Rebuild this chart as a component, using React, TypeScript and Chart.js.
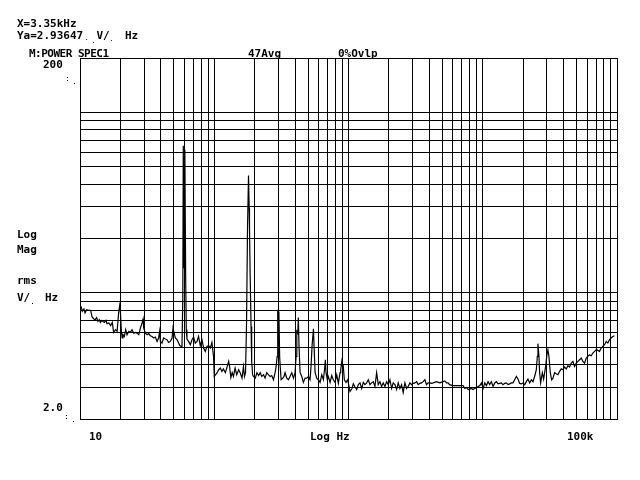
import React, { useEffect, useRef } from "react";
import { Chart, registerables } from "chart.js";

Chart.register(...registerables);

// Frequency (Hz) of each trace point
const freqHz = [
  10.2, 10.4, 10.7, 10.9, 11.2, 11.6, 12.0, 12.3, 12.7, 13.0, 13.3, 13.6, 13.9, 14.2, 14.5, 14.9, 15.2, 15.6, 15.9, 16.4,
  16.9, 17.4, 17.8, 18.4, 18.9, 19.4, 19.8, 20.0, 20.3, 20.6, 20.9, 21.4, 21.9, 22.4, 23.1, 23.7, 24.4, 25.1, 25.9, 26.6,
  27.4, 28.2, 29.0, 29.5, 29.8, 30.7, 31.6, 32.5, 33.4, 34.4, 35.4, 36.4, 37.5, 38.5, 39.2, 39.7, 40.8, 42.0, 43.2, 44.5,
  45.7, 47.1, 48.5, 49.3, 50.4, 51.3, 52.8, 54.3, 55.2, 56.6, 57.5, 58.3, 58.8, 59.6, 60.4, 61.2, 61.9, 62.6, 64.4, 66.3,
  68.3, 70.2, 72.2, 74.4, 76.4, 78.7, 81.0, 83.3, 85.7, 88.3, 90.7, 93.4, 96.1, 98.8,
  100, 105, 108, 111, 114, 117, 121, 124, 128, 130, 133, 136, 139, 143, 147, 152, 156, 161, 165, 168,
  171, 174, 177, 180, 182, 183, 185, 188, 190, 193, 196, 202, 208, 214, 220, 226, 233, 239, 246, 253,
  261, 268, 276, 284, 289, 294, 297, 300, 303, 307, 310, 315, 324, 331, 337, 347, 357, 367, 378, 389,
  400, 407, 412, 419, 423, 428, 436, 449, 461, 475, 489, 503, 517, 526, 535, 548, 554, 564, 580, 596,
  614, 632, 650, 665, 672, 680, 696, 708, 729, 750, 771, 794, 817, 840, 865, 875, 891, 906, 915, 931,
  958, 986,
  1026, 1062, 1086, 1118, 1151, 1183, 1218, 1254, 1289, 1326, 1365, 1404, 1445, 1487, 1529, 1574, 1620, 1665, 1714, 1764,
  1814, 1868, 1922, 1977, 2035, 2095, 2154, 2217, 2282, 2346, 2414, 2485, 2555, 2630, 2708, 2783, 2866, 2949, 3032, 3122,
  3214, 3303, 3400, 3500, 3598, 3704, 3813, 3920, 4035, 4155, 4271, 4527, 4789, 5068, 5217, 5371, 5520, 5656, 6014, 6374,
  6745, 7137, 7348, 7565, 7775, 8004, 8240, 8470, 8720, 8978, 9228, 9500, 9780,
  10050, 10350, 10650, 10950, 11270, 11600, 11930, 12280, 12640, 12990, 13380, 13770, 14150, 14570, 15000, 15420, 15870, 16340, 16800, 17290,
  17800, 18300, 18840, 19380, 19930, 20520, 21130, 21720, 22360, 23020, 23660, 24350, 25070, 25500, 25770, 26220, 26530, 26990, 27780, 28410,
  29400, 30070, 30580, 31110, 31860, 32590, 33330, 34300, 35310, 36290, 37360, 38450, 39510, 40700, 41900, 43070, 44340, 45640, 46920, 48300,
  49730, 51110, 52630, 54180, 55690, 57330, 59010, 60660, 62450, 64280, 66080, 68030, 70020, 71990, 74110, 76290, 78420, 80730, 83110, 85430,
  87950, 90540, 93070, 95810,
];

// rms magnitude (V/√Hz) of each trace point
const magV = [
  8.41, 7.90, 8.14, 7.74, 8.07, 7.99, 7.99, 7.35, 7.16, 7.10, 7.29, 6.95, 7.10, 6.86, 7.04, 6.92, 6.86, 7.04, 6.75, 6.81,
  6.58, 6.86, 6.04, 6.25, 6.12, 7.74, 8.60, 7.90, 6.25, 5.62, 5.86, 5.73, 6.25, 5.86, 6.12, 6.04, 6.25, 5.98, 6.04, 5.98,
  5.86, 6.39, 6.81, 7.16, 6.39, 5.98, 5.86, 5.94, 5.79, 5.73, 5.62, 5.69, 5.38, 5.62, 6.12, 5.38, 5.27, 5.62, 5.55, 5.50,
  5.31, 5.38, 5.62, 6.39, 5.94, 5.62, 5.50, 5.27, 5.12, 5.05, 5.10, 9.16, 65.3, 13.8, 62.1, 13.1, 6.25, 5.55, 5.38, 5.16,
  5.50, 5.69, 5.27, 5.38, 5.73, 5.10, 5.50, 4.95, 4.74, 5.05, 5.10, 4.95, 5.31, 4.43,
  3.44, 3.61, 3.75, 3.83, 3.67, 3.79, 3.61, 3.84, 4.17, 3.91, 3.39, 3.61, 3.44, 3.83, 3.52, 3.75, 3.61, 3.37, 3.91, 3.44,
  3.61, 6.83, 23.3, 44.6, 29.6, 23.3, 12.9, 6.51, 4.21, 3.52, 3.44, 3.37, 3.61, 3.48, 3.61, 3.44, 3.52, 3.37, 3.61, 3.52,
  3.44, 3.48, 3.30, 3.61, 3.91, 4.43, 8.07, 4.54, 7.87, 4.43, 3.91, 3.30, 3.37, 3.44, 3.61, 3.37, 3.30, 3.44, 3.61, 3.37,
  3.61, 4.45, 6.12, 5.98, 7.31, 5.05, 3.61, 3.44, 3.19, 3.37, 3.37, 3.44, 3.30, 3.91, 5.05, 6.33, 5.05, 3.61, 3.37, 3.30,
  3.19, 3.52, 3.30, 3.83, 4.26, 3.61, 3.30, 3.44, 3.19, 3.48, 3.30, 3.19, 3.52, 3.15, 3.61, 3.75, 4.17, 3.83, 3.91, 3.30,
  3.19, 3.30,
  2.84, 2.95, 3.14, 3.01, 2.91, 3.10, 3.17, 2.95, 3.19, 3.10, 3.17, 3.30, 3.10, 3.17, 3.22, 3.03, 3.61, 3.10, 3.22, 3.03,
  3.17, 3.03, 3.22, 3.10, 3.30, 2.95, 3.17, 3.10, 2.91, 3.17, 2.95, 3.10, 2.80, 3.17, 2.95, 3.03, 3.17, 3.10, 3.15, 3.17,
  3.22, 3.10, 3.15, 3.17, 3.22, 3.30, 3.10, 3.17, 3.17, 3.15, 3.17, 3.22, 3.17, 3.22, 3.25, 3.17, 3.17, 3.10, 3.06, 3.06,
  3.06, 3.06, 2.95, 2.99, 2.91, 2.93, 2.95, 2.91, 2.95, 2.99, 3.03, 3.06, 3.17,
  2.95, 3.17, 3.06, 3.22, 3.10, 3.22, 3.03, 3.17, 3.22, 3.13, 3.15, 3.17, 3.10, 3.15, 3.17, 3.10, 3.13, 3.17, 3.17, 3.30,
  3.44, 3.33, 3.15, 3.13, 3.17, 3.10, 3.22, 3.33, 3.17, 3.30, 3.22, 3.44, 3.75, 4.45, 5.23, 4.45, 3.61, 3.17, 3.61, 3.33,
  3.91, 4.54, 4.84, 4.45, 3.61, 3.30, 3.37, 3.61, 3.56, 3.52, 3.67, 3.79, 3.75, 3.88, 3.79, 3.95, 3.88, 4.08, 4.17, 3.91,
  4.08, 4.17, 4.26, 4.35, 4.17, 4.08, 4.35, 4.45, 4.54, 4.48, 4.64, 4.74, 4.84, 4.80, 4.74, 4.95, 5.05, 5.16, 5.38, 5.27,
  5.50, 5.62, 5.73, 5.79,
];

// log grid lines
const xGridHz = [
  10, 20, 30, 40, 50, 60, 70, 80, 90,
  100, 200, 300, 400, 500, 600, 700, 800, 900,
  1000, 2000, 3000, 4000, 5000, 6000, 7000, 8000, 9000,
  10000, 20000, 30000, 40000, 50000, 60000, 70000, 80000, 90000,
  100000,
];
const yGridV = [2, 3, 4, 5, 6, 7, 8, 9, 10, 20, 30, 40, 50, 60, 70, 80, 90, 100, 200];

const xMin = 10;
const xMax = 100000;
const yMin = 2;
const yMax = 200;

// Annotation texts: [text, x, y]
const headerTexts: [string, number, number][] = [
  ["X=3.35kHz", 17, 27],
  ["Ya=2.93647", 17, 38.5],
  ["V/", 96.5, 38.5],
  ["Hz", 125, 38.5],
  ["47Avg", 248, 56.5],
  ["0%Ovlp", 338, 56.5],
];
const axisTexts: [string, number, number][] = [
  ["200", 43, 67.5],
  ["Log", 17, 237.5],
  ["Mag", 17, 252.5],
  ["rms", 17, 284],
  ["V/", 17, 300.5],
  ["Hz", 45, 300.5],
  ["2.0", 43, 410.5],
  ["10", 89, 440],
  ["Log Hz", 310, 440],
  ["100k", 567, 440],
];
const titleText = "M:POWER SPEC1";

const textPlugin = {
  id: "hpText",
  afterDraw(chart: any) {
    const ctx = chart.ctx as CanvasRenderingContext2D;
    ctx.save();
    ctx.font = 'bold 11px "DejaVu Sans Mono", monospace';
    ctx.fillStyle = "#000";
    ctx.textAlign = "left";
    ctx.textBaseline = "alphabetic";
    for (const [t, x, y] of headerTexts) ctx.fillText(t, x, y);
    for (const [t, x, y] of axisTexts) ctx.fillText(t, x, y);
    (ctx as any).letterSpacing = "-0.5px";
    ctx.fillText(titleText, 29, 56.5);
    (ctx as any).letterSpacing = "0px";
    // remnants of the square-root glyphs
    ctx.fillStyle = "#1a1aff";
    ctx.fillRect(86, 39, 1, 1);
    ctx.fillRect(93, 42, 1, 1);
    ctx.fillRect(111, 40, 1, 1);
    ctx.fillStyle = "#000";
    ctx.fillRect(32, 303, 1, 1);
    ctx.fillRect(67, 77, 1, 1);
    ctx.fillRect(67, 80, 1, 1);
    ctx.fillRect(74, 83, 1, 1);
    ctx.fillRect(66, 415, 1, 1);
    ctx.fillRect(66, 418, 1, 1);
    ctx.fillRect(73, 421, 1, 1);
    ctx.restore();
  },
};

export default function App() {
  const canvasRef = useRef<HTMLCanvasElement | null>(null);

  useEffect(() => {
    const canvas = canvasRef.current;
    if (!canvas) return;
    const chart = new Chart(canvas, {
      type: "line",
      data: {
        datasets: [
          {
            data: freqHz.map((f, i) => ({ x: f, y: magV[i] })),
            borderColor: "#000",
            borderWidth: 1.2,
            pointRadius: 0,
            tension: 0,
            fill: false,
          },
        ],
      },
      options: {
        responsive: false,
        animation: false,
        events: [],
        layout: { padding: { left: 80, right: 23, top: 58, bottom: 61 } },
        plugins: {
          legend: { display: false },
          tooltip: { enabled: false },
          title: { display: false },
        },
        scales: {
          x: {
            type: "logarithmic",
            min: xMin,
            max: xMax,
            afterBuildTicks: (s: any) => {
              s.ticks = xGridHz.map((v) => ({ value: v }));
            },
            afterFit: (s: any) => {
              s.height = 0;
            },
            ticks: { display: false },
            grid: { color: "#000", lineWidth: 1, drawTicks: false },
            border: { display: true, color: "#000", width: 1 },
          },
          y: {
            type: "logarithmic",
            min: yMin,
            max: yMax,
            afterBuildTicks: (s: any) => {
              s.ticks = yGridV.map((v) => ({ value: v }));
            },
            afterFit: (s: any) => {
              s.width = 0;
            },
            ticks: { display: false },
            grid: { color: "#000", lineWidth: 1, drawTicks: false },
            border: { display: true, color: "#000", width: 1 },
          },
        },
      } as any,
      plugins: [textPlugin],
    });
    return () => chart.destroy();
  }, []);

  return (
    <div
      style={{
        position: "absolute",
        left: 0,
        top: 0,
        width: 640,
        height: 480,
        background: "#fff",
      }}
    >
      <canvas ref={canvasRef} width={640} height={480} style={{ display: "block" }} />
    </div>
  );
}
